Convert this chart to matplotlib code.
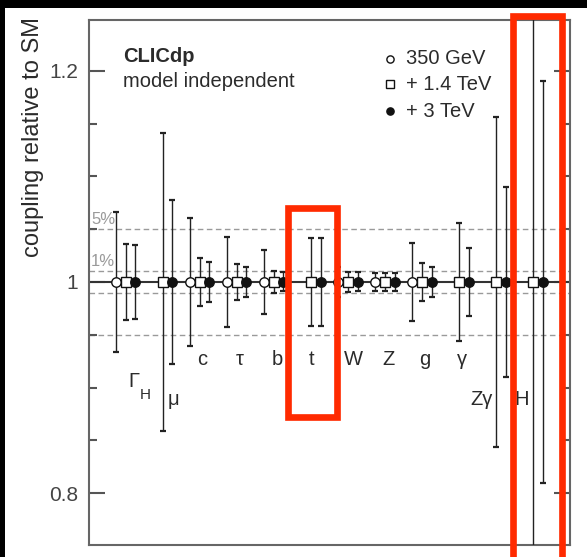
import matplotlib
matplotlib.use('Agg')
import matplotlib.pyplot as plt
from matplotlib.patches import Rectangle
from matplotlib.ticker import MultipleLocator, FixedLocator
import numpy as np

# ---------------- data ----------------
categories = ['Γ', 'μ', 'c', 'τ', 'b', 't', 'W', 'Z', 'g', 'γ', 'Zγ', 'H']
# relative uncertainty on each coupling (None = not measured at this stage)
err_350GeV = [0.066, None, 0.061, 0.043, 0.030, None, 0.014, 0.0085, 0.037, None, None, None]
err_1p4TeV = [0.036, 0.141, 0.023, 0.017, 0.010, 0.042, 0.0095, 0.0085, 0.018, 0.056, 0.156, 0.40]
err_3TeV = [0.035, 0.078, 0.019, 0.0145, 0.009, 0.042, 0.009, 0.0085, 0.0145, 0.032, 0.090, 0.19]
sm_value = 1.0
band_levels = [0.01, 0.05]
band_labels = ['1%', '5%']
series_labels = ['350 GeV', '+ 1.4 TeV', '+ 3 TeV']
yticks = [0.8, 1.0, 1.2]
yticklabels = ['0.8', '1', '1.2']

# ---------------- layout ----------------
W_PX, H_PX = 587, 557
fig = plt.figure(figsize=(W_PX / 100, H_PX / 100), dpi=100)
ax = fig.add_axes([89 / W_PX, 12 / H_PX, 481 / W_PX, 525 / H_PX])
ax.set_xlim(-0.99, 12.0)
ax.set_ylim(0.751, 1.248)

TXT = '#2b2b2b'
FAM = ['Liberation Sans', 'DejaVu Sans']
dx = 0.262

# reference lines
for lvl in band_levels:
    for s in (1, -1):
        ax.axhline(sm_value + s * lvl, color='#9a9a9a', lw=1.0, ls=(0, (4, 2.5)), zorder=1)
ax.axhline(sm_value, color='#333333', lw=1.5, zorder=2)

for lvl, lab in zip(band_levels, band_labels):
    ax.text(0.004, sm_value + lvl + 0.002, lab, transform=ax.get_yaxis_transform(),
            fontsize=12, color='#9a9a9a', family=FAM, ha='left', va='bottom')

styles = [
    dict(off=-dx, marker='o', mfc='white', ms=6.8),
    dict(off=0.0, marker='s', mfc='white', ms=6.6),
    dict(off=dx, marker='o', mfc='#111111', ms=6.8),
]
for errs, st in zip([err_350GeV, err_1p4TeV, err_3TeV], styles):
    xs = np.array([i + st['off'] for i, e in enumerate(errs) if e is not None])
    es = np.array([e for e in errs if e is not None])
    ys = np.full(len(xs), sm_value)
    ax.errorbar(xs, ys, yerr=es, fmt='none', ecolor='#222222', elinewidth=1.0,
                capsize=2.3, capthick=1.6, zorder=3)
    ax.plot(xs, ys, ls='none', marker=st['marker'], mfc=st['mfc'], mec='#111111',
            mew=1.0, ms=st['ms'], zorder=4)

# coupling labels (x offset from group centre, baseline y)
label_dx = [0.22, 0.29, 0.08, 0.09, 0.09, 0.03, 0.15, 0.09, 0.09, 0.09, -0.39, -0.30]
label_y = [0.9005, 0.8834, 0.9213, 0.9213, 0.9213, 0.9213, 0.9213, 0.9213, 0.9213,
           0.9213, 0.8834, 0.8834]
for i, (name, ldx, ly) in enumerate(zip(categories, label_dx, label_y)):
    t = ax.text(i + ldx, ly, name, fontsize=14.5, color=TXT, family=FAM,
                ha='center', va='baseline')
    if name == 'Γ':
        ax.annotate('H', xy=(1, 0), xycoords=t, xytext=(0.5, -5.5),
                    textcoords='offset points', fontsize=11, color=TXT,
                    family=FAM, ha='left', va='baseline')

# axes styling
for sp in ax.spines.values():
    sp.set_color('#666666')
    sp.set_linewidth(1.5)
ax.set_xticks([])
ax.yaxis.set_major_locator(FixedLocator(yticks))
ax.set_yticklabels(yticklabels)
ax.yaxis.set_minor_locator(MultipleLocator(0.05))
ax.tick_params(axis='y', which='both', direction='in', left=True, right=True,
               color='#555555', width=1.5, labelcolor='#444444', labelsize=15, pad=8)
ax.tick_params(axis='y', which='major', length=11.5)
ax.tick_params(axis='y', which='minor', length=5.8)
for lab in ax.get_yticklabels():
    lab.set_family(FAM)

ax.set_ylabel('coupling relative to SM', fontsize=17, color=TXT, family=FAM, loc='top')
ax.yaxis.set_label_coords(-0.094, 1.006)

# titles
ax.text(0.0707, 0.920, 'CLICdp', transform=ax.transAxes, fontsize=14.5,
        fontweight='bold', color=TXT, family=FAM, va='baseline')
ax.text(0.0707, 0.8718, 'model independent', transform=ax.transAxes, fontsize=14.5,
        color=TXT, family=FAM, va='baseline')

# legend (manual)
leg_y = [0.9156, 0.8667, 0.8158]
leg_m = [dict(marker='o', mfc='white'), dict(marker='s', mfc='white'),
         dict(marker='o', mfc='#111111')]
for lab, ly, m in zip(series_labels, leg_y, leg_m):
    ax.plot([0.6258], [ly + 0.011], transform=ax.transAxes, ls='none', marker=m['marker'],
            mfc=m['mfc'], mec='#111111', mew=1.0, ms=5.2, clip_on=False, zorder=5)
    ax.text(0.659, ly, lab, transform=ax.transAxes, fontsize=14.5, color=TXT,
            family=FAM, va='baseline')

# screenshot frame and highlight boxes
fig.add_artist(Rectangle((0, 1 - 8 / H_PX), 1, 8 / H_PX, transform=fig.transFigure,
                         fc='black', ec='none', zorder=10))
fig.add_artist(Rectangle((0, 0), 5 / W_PX, 1, transform=fig.transFigure,
                         fc='black', ec='none', zorder=10))

def red_box(x0, y0, x1, y1):
    r = Rectangle((x0 / W_PX, 1 - y1 / H_PX), (x1 - x0) / W_PX, (y1 - y0) / H_PX,
                  transform=fig.transFigure, fill=False, ec='#ff2a00', lw=4.8,
                  zorder=11)
    fig.add_artist(r)

red_box(288.3, 208.3, 337.0, 416.7)
red_box(512.7, 16.3, 561.7, 620)

fig.savefig('out.png', dpi=100)
